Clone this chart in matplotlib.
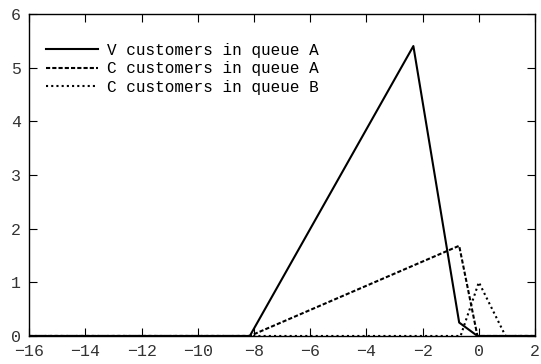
import matplotlib.pyplot as plt

plt.rcParams['font.family'] = ['Liberation Mono', 'DejaVu Sans Mono']
plt.rcParams['font.size'] = 12

# piecewise-linear densities
v_a_x = [-16, -8.15, -2.33, -0.7, -0.05, 2]
v_a_y = [0, 0, 5.4, 0.25, 0, 0]

c_a_x = [-16, -8.15, -0.7, -0.05, 2]
c_a_y = [0, 0, 1.68, 0, 0]

c_b_x = [-16, -0.65, 0.0, 0.95, 2]
c_b_y = [0, 0, 1.0, 0, 0]

xticks = list(range(-16, 3, 2))
yticks = list(range(0, 7))

fig = plt.figure(figsize=(5.41, 3.64), dpi=100)
ax = fig.add_axes([0.054, 0.077, 0.935, 0.885])

ax.plot(v_a_x, v_a_y, color='black', lw=1.5, ls='-', label='V customers in queue A')
ax.plot(c_a_x, c_a_y, color='black', lw=1.5, ls=(0, (2, 1)), label='C customers in queue A')
ax.plot(c_b_x, c_b_y, color='black', lw=1.5, ls=(0, (1, 1.5)), label='C customers in queue B')

ax.set_xlim(-16, 2)
ax.set_ylim(0, 6)
ax.set_xticks(xticks)
ax.set_yticks(yticks)
ax.set_xticklabels(['\u2212%d' % -t if t < 0 else str(t) for t in xticks])
ax.tick_params(direction='in', top=True, right=True, length=6, width=0.8, pad=6,
               colors='black', labelcolor='#333333')
for s in ax.spines.values():
    s.set_linewidth(1.0)

ax.legend(loc='upper left', frameon=False, handlelength=3.2, handletextpad=0.6,
          labelspacing=0.22, borderaxespad=0.0, borderpad=0.0,
          bbox_to_anchor=(0.034, 0.91), prop={'size': 11.5})

fig.savefig('out.png', dpi=100)
